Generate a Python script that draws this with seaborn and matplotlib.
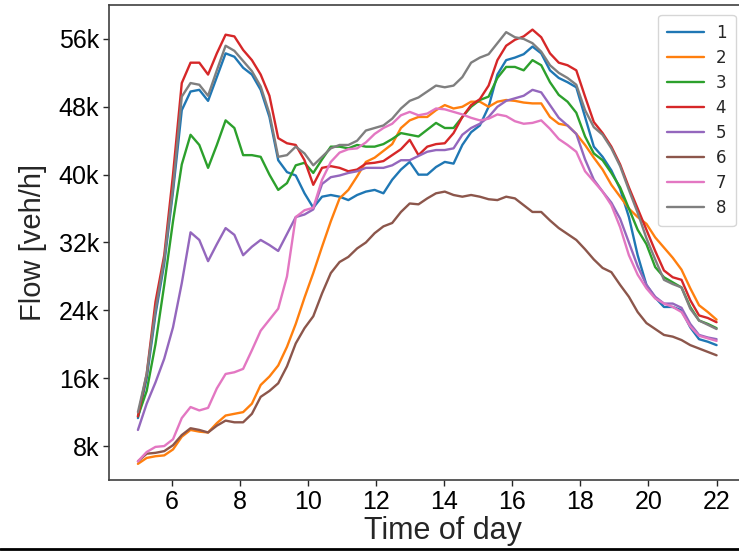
import numpy as np
import pandas as pd
import matplotlib
matplotlib.use("Agg")
import matplotlib.pyplot as plt
from matplotlib.ticker import FuncFormatter, MultipleLocator
from matplotlib.lines import Line2D
import seaborn as sns

# time grid: 67 samples between 5:00 and 22:00
time_of_day = np.linspace(5, 22, 67)

flow_1 = [11.3, 16.0, 23.5, 29.5, 38.0, 47.6, 49.8, 50.0, 48.7, 51.5, 54.3, 53.9, 52.6, 51.8, 50.0, 46.8,
          41.7, 40.3, 39.9, 37.8, 36.1, 37.4, 37.6, 37.4, 37.0, 37.6, 38.0, 38.2, 37.8, 39.4, 40.6, 41.5,
          40.0, 40.0, 40.9, 41.5, 41.3, 43.5, 45.0, 45.8, 48.0, 51.8, 53.5, 53.8, 54.2, 55.1, 54.3, 52.3,
          51.4, 50.9, 50.3, 46.8, 43.3, 42.1, 40.5, 38.3, 35.0, 30.5, 27.0, 25.5, 24.4, 24.4, 24.0, 22.0,
          20.6, 20.3, 19.9]
flow_2 = [5.9, 6.6, 6.8, 6.9, 7.6, 9.1, 9.9, 9.7, 9.6, 10.7, 11.6, 11.8, 12.0, 13.0, 15.2, 16.2,
          17.5, 19.7, 22.4, 25.5, 28.4, 31.5, 34.5, 37.2, 38.2, 39.8, 41.5, 42.0, 42.8, 43.6, 45.5, 46.4,
          46.8, 46.8, 47.6, 48.2, 47.8, 48.0, 48.6, 48.6, 48.0, 48.6, 48.8, 48.7, 48.5, 48.4, 48.4, 46.8,
          46.0, 45.8, 44.8, 43.5, 42.0, 40.6, 38.8, 37.4, 36.0, 35.0, 34.2, 32.6, 31.4, 30.2, 28.8, 26.6,
          24.6, 23.8, 22.9]
flow_3 = [11.5, 14.5, 20.0, 27.0, 34.5, 41.2, 44.7, 43.5, 40.8, 43.5, 46.4, 45.5, 42.3, 42.3, 42.1, 40.0,
          38.2, 39.0, 41.1, 41.4, 40.2, 41.8, 43.3, 43.3, 43.1, 43.5, 43.3, 43.3, 43.6, 44.2, 44.9, 44.7,
          44.5, 45.3, 46.1, 45.5, 45.5, 46.8, 48.0, 48.8, 49.2, 51.4, 52.7, 52.7, 52.3, 53.5, 52.9, 50.9,
          49.4, 48.6, 47.3, 44.5, 42.5, 41.7, 40.2, 38.5, 36.0, 33.5, 31.8, 29.1, 27.9, 27.3, 26.7, 24.4,
          22.8, 22.4, 21.9]
flow_4 = [11.5, 16.5, 25.0, 30.5, 40.0, 50.8, 53.2, 53.2, 51.8, 54.3, 56.5, 56.3, 54.7, 53.5, 51.8, 49.3,
          44.3, 43.7, 43.5, 41.7, 38.8, 40.8, 41.0, 40.8, 40.4, 40.6, 41.3, 41.4, 41.6, 42.3, 43.0, 44.1,
          42.3, 43.3, 43.6, 43.7, 44.9, 46.8, 48.2, 48.9, 50.5, 53.5, 55.2, 55.9, 56.3, 57.1, 56.2, 54.3,
          53.2, 52.9, 52.3, 49.2, 46.2, 44.9, 43.3, 41.2, 38.5, 36.0, 33.5, 31.0, 28.7, 27.9, 27.6, 25.2,
          23.4, 23.1, 22.6]
flow_5 = [9.9, 13.0, 15.5, 18.3, 22.0, 27.2, 33.2, 32.3, 29.8, 31.8, 33.7, 32.9, 30.5, 31.5, 32.3, 31.7,
          31.0, 33.0, 35.0, 35.3, 35.9, 38.9, 39.7, 39.9, 40.2, 40.4, 40.8, 40.8, 40.8, 41.1, 41.7, 41.7,
          42.2, 42.7, 42.9, 42.9, 43.1, 44.7, 45.5, 46.0, 46.8, 48.0, 48.7, 49.0, 49.3, 50.0, 49.7, 48.2,
          46.7, 45.8, 44.8, 41.8, 39.4, 38.0, 36.7, 34.8, 32.0, 29.2, 27.0, 25.6, 24.8, 24.8, 24.3, 22.4,
          21.1, 20.8, 20.6]
flow_6 = [6.2, 7.1, 7.2, 7.4, 8.1, 9.3, 10.1, 9.9, 9.6, 10.4, 11.0, 10.8, 10.8, 11.8, 13.8, 14.5,
          15.4, 17.4, 20.1, 21.9, 23.3, 26.0, 28.4, 29.7, 30.3, 31.3, 32.0, 33.1, 33.9, 34.3, 35.6, 36.6,
          36.5, 37.2, 37.8, 38.0, 37.6, 37.4, 37.6, 37.4, 37.1, 37.0, 37.4, 37.2, 36.4, 35.6, 35.6, 34.6,
          33.7, 33.0, 32.3, 31.2, 30.0, 29.0, 28.5, 27.0, 25.6, 23.8, 22.5, 21.8, 21.1, 20.9, 20.5, 19.9,
          19.5, 19.1, 18.7]
flow_7 = [6.2, 7.3, 7.9, 8.0, 8.8, 11.3, 12.6, 12.2, 12.5, 14.8, 16.5, 16.7, 17.1, 19.3, 21.6, 22.9,
          24.2, 28.0, 35.0, 35.8, 36.1, 39.4, 41.5, 42.6, 43.0, 43.1, 43.8, 44.8, 45.5, 46.0, 47.0, 47.4,
          47.0, 47.2, 47.8, 47.7, 47.4, 47.1, 46.7, 46.4, 46.6, 47.1, 46.9, 46.3, 46.0, 46.1, 46.4, 45.4,
          44.2, 43.5, 42.7, 40.4, 39.2, 38.0, 36.4, 33.8, 30.5, 28.2, 26.6, 25.4, 24.8, 24.4, 23.8, 22.1,
          21.0, 20.7, 20.4]
flow_8 = [12.0, 16.5, 24.0, 30.0, 38.5, 49.2, 50.8, 50.6, 49.3, 52.3, 55.2, 54.6, 53.4, 52.2, 50.4, 47.2,
          42.1, 42.3, 43.3, 42.5, 41.1, 42.1, 43.1, 43.5, 43.5, 44.0, 45.2, 45.5, 45.8, 46.6, 47.8, 48.7,
          49.1, 49.8, 50.5, 50.3, 50.5, 51.5, 53.2, 53.8, 54.2, 55.5, 56.8, 56.2, 56.0, 55.5, 54.5, 52.9,
          52.0, 51.4, 50.6, 47.6, 45.6, 44.7, 43.1, 41.0, 38.2, 35.5, 32.5, 30.0, 27.6, 27.1, 26.7, 24.2,
          22.8, 22.3, 21.8]

series_names = ["1", "2", "3", "4", "5", "6", "7", "8"]
all_flows = [flow_1, flow_2, flow_3, flow_4, flow_5, flow_6, flow_7, flow_8]

frames = []
for name, vals in zip(series_names, all_flows):
    frames.append(pd.DataFrame({"time": time_of_day,
                                "flow": np.array(vals) * 1000.0,
                                "series": name}))
df = pd.concat(frames, ignore_index=True)

sns.set_style("ticks")
plt.rcParams["font.family"] = ["Liberation Sans", "DejaVu Sans"]

fig = plt.figure(figsize=(7.39, 5.51), dpi=100)
ax = fig.add_axes([0.1475, 0.1289, 0.8613, 0.862])

sns.lineplot(data=df, x="time", y="flow", hue="series", hue_order=series_names,
             palette="tab10", linewidth=1.7, ax=ax)

ax.set_xlim(4.15, 22.85)
ax.set_ylim(4000, 60000)
ax.xaxis.set_major_locator(MultipleLocator(2))
ax.yaxis.set_major_locator(MultipleLocator(8000))
ax.yaxis.set_major_formatter(FuncFormatter(lambda v, p: f"{int(round(v / 1000))}k"))
ax.tick_params(axis="both", labelsize=18, length=4.5, width=1.0, colors="0.15",
               labelcolor="black", pad=2.5)
ax.set_xlabel("Time of day", fontsize=22)
ax.set_ylabel("Flow [veh/h]", fontsize=21)
ax.xaxis.set_label_coords(0.525, -0.075)
ax.yaxis.set_label_coords(-0.097, 0.5)
for s in ax.spines.values():
    s.set_linewidth(1.2)
    s.set_color("0.25")

handles, labels = ax.get_legend_handles_labels()
leg = ax.legend(handles, labels, loc="upper right", title=None,
                prop={"family": "DejaVu Sans", "size": 12}, handlelength=2.2,
                handletextpad=0.7, labelspacing=0.42, borderpad=0.55,
                borderaxespad=0.6)

fig.add_artist(Line2D([0, 1], [0.0045, 0.0045], transform=fig.transFigure,
                      color="black", linewidth=2))

fig.savefig("out.png", dpi=100)
